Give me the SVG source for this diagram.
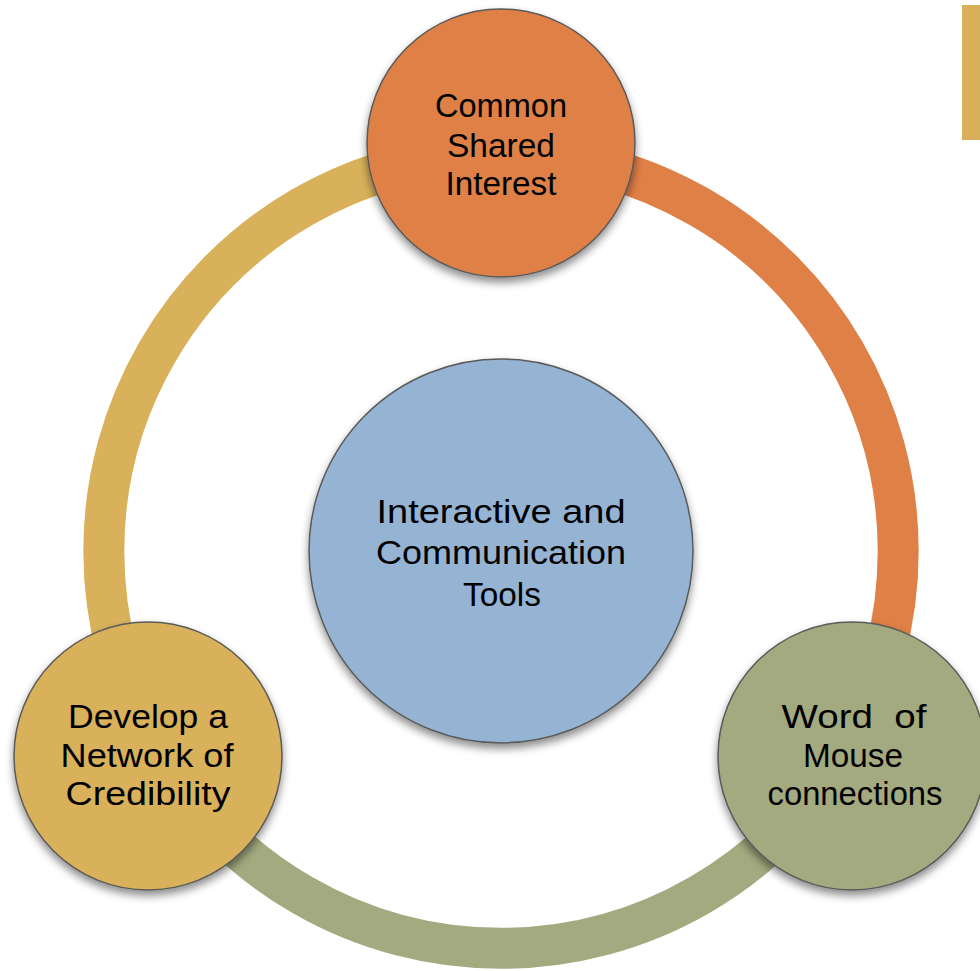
<svg xmlns="http://www.w3.org/2000/svg" width="980" height="971" viewBox="0 0 980 971">
<defs>
<filter id="sh" x="-20%" y="-20%" width="140%" height="150%">
<feDropShadow dx="0" dy="5" stdDeviation="4" flood-color="#000" flood-opacity="0.45"/>
</filter>
</defs>
<style>
.node{stroke:#5a5a5a;stroke-width:1.5;filter:url(#sh)}
.lbl{font-family:"Liberation Sans",Arial,sans-serif;font-size:33px;fill:#000;text-anchor:middle}
.seg{fill:none;stroke-width:41}
</style>
<rect x="962" y="5" width="18" height="135" fill="#D8B05C"/>
<g id="connectors">
<path class="seg" stroke="#DF8046" d="M 501 154 A 397 397 0 0 1 845 749.5"/>
<path class="seg" stroke="#A3AA7F" d="M 845 749.5 A 397 397 0 0 1 157 749.5"/>
<path class="seg" stroke="#D8B15A" d="M 157 749.5 A 397 397 0 0 1 501 154"/>
</g>
<g id="node-top">
<circle class="node" cx="501" cy="143" r="134" fill="#DF8046"/>
<text class="lbl"><tspan x="501" y="117" textLength="132" lengthAdjust="spacingAndGlyphs">Common</tspan><tspan x="501" y="157" textLength="108" lengthAdjust="spacingAndGlyphs">Shared</tspan><tspan x="501" y="195" textLength="111" lengthAdjust="spacingAndGlyphs">Interest</tspan></text>
</g>
<g id="node-left">
<circle class="node" cx="148" cy="756" r="134" fill="#D8B15A"/>
<text class="lbl"><tspan x="148" y="728" textLength="160" lengthAdjust="spacingAndGlyphs">Develop a</tspan><tspan x="147" y="767" textLength="173" lengthAdjust="spacingAndGlyphs">Network of</tspan><tspan x="148" y="805" textLength="165" lengthAdjust="spacingAndGlyphs">Credibility</tspan></text>
</g>
<g id="node-right">
<circle class="node" cx="852" cy="756" r="134" fill="#A3AA7F"/>
<text class="lbl" xml:space="preserve"><tspan x="854" y="728" textLength="145" lengthAdjust="spacingAndGlyphs">Word  of</tspan><tspan x="853" y="767" textLength="100" lengthAdjust="spacingAndGlyphs">Mouse</tspan><tspan x="855" y="805" textLength="175" lengthAdjust="spacingAndGlyphs">connections</tspan></text>
</g>
<g id="node-center">
<circle class="node" cx="501" cy="551" r="192" fill="#95B4D3"/>
<text class="lbl" style="font-size:34px"><tspan x="501" y="523" textLength="249" lengthAdjust="spacingAndGlyphs">Interactive and</tspan><tspan x="501" y="564" textLength="250" lengthAdjust="spacingAndGlyphs">Communication</tspan><tspan x="502" y="606" textLength="78" lengthAdjust="spacingAndGlyphs">Tools</tspan></text>
</g>
</svg>
